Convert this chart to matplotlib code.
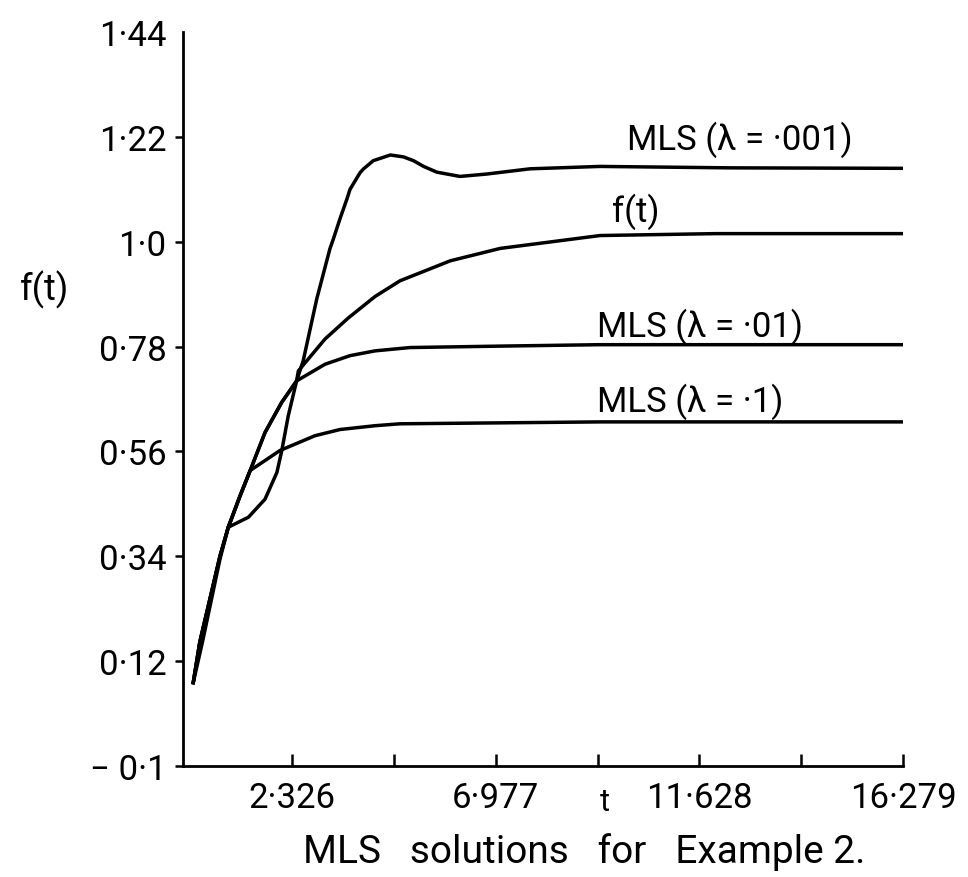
import matplotlib
matplotlib.use("Agg")
import matplotlib.pyplot as plt

plt.rcParams['font.family'] = ['Roboto', 'DejaVu Sans']

# values
t_f = [0.07, 0.22, 0.68, 0.87, 1.14, 1.37, 1.71, 2.09, 2.43, 2.47, 3.08, 3.61, 4.22, 4.79, 5.94, 7.08, 9.36, 12.0, 16.279]
y_f = [0.075, 0.16, 0.34, 0.401, 0.467, 0.520, 0.600, 0.663, 0.708, 0.729, 0.796, 0.840, 0.885, 0.918, 0.960, 0.986, 1.013, 1.017, 1.017]

t_001 = [0.07, 0.28, 0.68, 0.87, 1.33, 1.71, 1.98, 2.09, 2.24, 2.43, 2.58, 2.89, 3.19, 3.27, 3.42, 3.58, 3.65, 3.88, 3.96, 4.18, 4.57, 4.87, 5.10, 5.33, 5.63, 6.16, 6.77, 7.76, 9.36, 12.33, 16.279]
y_001 = [0.075, 0.16, 0.334, 0.401, 0.422, 0.460, 0.516, 0.561, 0.635, 0.708, 0.750, 0.880, 0.985, 1.006, 1.048, 1.090, 1.110, 1.145, 1.153, 1.170, 1.182, 1.178, 1.170, 1.158, 1.146, 1.137, 1.142, 1.153, 1.158, 1.155, 1.154]

t_01 = [0.07, 0.22, 0.68, 0.87, 1.14, 1.37, 1.71, 2.09, 2.43, 3.08, 3.65, 4.22, 5.02, 7.08, 9.36, 16.279]
y_01 = [0.075, 0.16, 0.34, 0.401, 0.467, 0.520, 0.600, 0.663, 0.708, 0.743, 0.761, 0.771, 0.778, 0.781, 0.784, 0.784]

t_1 = [0.07, 0.22, 0.68, 0.87, 1.14, 1.37, 2.05, 2.85, 3.42, 4.22, 4.79, 7.08, 9.36, 16.279]
y_1 = [0.075, 0.16, 0.34, 0.401, 0.467, 0.520, 0.562, 0.593, 0.606, 0.614, 0.618, 0.620, 0.622, 0.622]

xticks = [2.326, 4.651, 6.977, 9.302, 11.628, 13.953, 16.279]
xtick_labels = ["2·326", "", "6·977", "", "11·628", "", "16·279"]
yticks = [-0.1, 0.12, 0.34, 0.56, 0.78, 1.0, 1.22, 1.44]
ytick_labels = ["− 0·1", "0·12", "0·34", "0·56", "0·78", "1·0", "1·22", "1·44"]

fig = plt.figure(figsize=(9.68, 8.78), dpi=100)
ax = fig.add_axes([0.189, 0.1264, 0.744, 0.836])

lw = 2.5
ax.plot(t_001, y_001, color="black", lw=lw)
ax.plot(t_f, y_f, color="black", lw=lw)
ax.plot(t_01, y_01, color="black", lw=lw)
ax.plot(t_1, y_1, color="black", lw=lw)

ax.set_xlim(-0.165, 16.279)
ax.set_ylim(-0.1, 1.44)

for s in ["top", "right"]:
    ax.spines[s].set_visible(False)
for s in ["left", "bottom"]:
    ax.spines[s].set_linewidth(2.0)

ax.set_xticks(xticks)
ax.set_xticklabels(xtick_labels)
ax.set_yticks(yticks)
ax.set_yticklabels(ytick_labels)
ax.tick_params(axis="x", direction="in", length=9, width=1.8, pad=11, labelsize=25)
ax.tick_params(axis="y", direction="out", length=6, width=1.8, pad=6, labelsize=25)
ax.yaxis.get_major_ticks()[-1].tick1line.set_visible(False)

fs = 25
ax.text(9.98, 1.215, "MLS (λ = ·001)", fontsize=fs, ha="left", va="center")
ax.text(9.63, 1.064, "f(t)", fontsize=fs, ha="left", va="center")
ax.text(9.30, 0.823, "MLS (λ = ·01)", fontsize=fs, ha="left", va="center")
ax.text(9.30, 0.666, "MLS (λ = ·1)", fontsize=fs, ha="left", va="center")

fig.text(45 / 968, 1 - 290 / 878, "f(t)", fontsize=26, ha="center", va="center")
fig.text(605 / 968, 1 - 803 / 878, "t", fontsize=22, ha="center", va="center")
fig.text(584 / 968, 1 - 852 / 878, "MLS   solutions   for   Example 2.", fontsize=28, ha="center", va="center")

fig.savefig("out.png", dpi=100)
